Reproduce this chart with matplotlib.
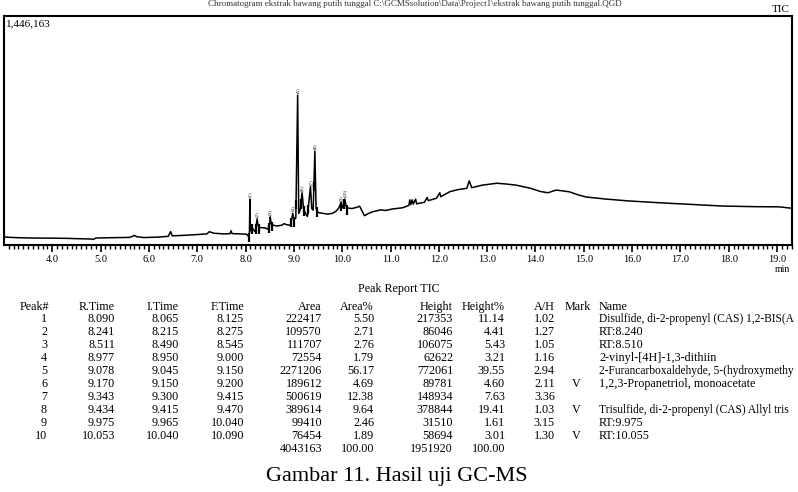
#!/usr/bin/env python3

import numpy as np
import matplotlib
matplotlib.use('Agg')
import matplotlib.pyplot as plt

# TIC trace (min, counts)
rt_trace = [3.00, 3.01, 3.30, 3.60, 4.00, 4.30, 4.50, 4.80, 4.85, 4.90, 5.20, 5.60, 5.70, 5.75,
	5.90, 6.20, 6.40, 6.45, 6.48, 6.80, 7.00, 7.20, 7.25, 7.35, 7.55, 7.68, 7.70, 7.72, 7.90,
	8.02, 8.06, 8.08, 8.09, 8.10, 8.13, 8.16, 8.20, 8.24, 8.26, 8.30, 8.40, 8.46, 8.50, 8.511,
	8.53, 8.57, 8.65, 8.75, 8.80, 8.85, 8.93, 8.977, 9.00, 9.04, 9.078, 9.10, 9.13, 9.17, 9.20,
	9.24, 9.28, 9.343, 9.37, 9.40, 9.434, 9.46, 9.50, 9.60, 9.70, 9.80, 9.88, 9.93, 9.975,
	10.01, 10.053, 10.09, 10.20, 10.30, 10.36, 10.46, 10.55, 10.63, 10.80, 10.90, 11.05,
	11.25, 11.38, 11.40, 11.42, 11.45, 11.47, 11.52, 11.54, 11.70, 11.76, 11.78, 11.95,
	12.02, 12.04, 12.23, 12.40, 12.58, 12.63, 12.68, 12.90, 13.20, 13.40, 13.60, 13.90,
	14.10, 14.26, 14.43, 14.70, 14.90, 15.05, 15.46, 15.94, 16.56, 17.18, 17.87, 18.56,
	19.04, 19.31]
tic_trace = [95000, 50000, 46000, 44000, 43000, 42000, 40000, 38000, 35000, 44000, 46000, 48000,
	60000, 52000, 47000, 50000, 55000, 85000, 58000, 62000, 66000, 70000, 84000, 74000, 70000,
	72000, 90000, 72000, 70000, 68000, 55000, 80000, 290000, 90000, 120000, 95000, 85000,
	165000, 120000, 110000, 108000, 100000, 130000, 178000, 135000, 125000, 120000, 125000,
	135000, 128000, 125000, 200000, 160000, 170000, 947000, 200000, 220000, 330000, 230000,
	200000, 180000, 368000, 230000, 220000, 594000, 230000, 205000, 200000, 195000, 200000,
	215000, 235000, 265000, 235000, 290000, 235000, 230000, 238000, 245000, 185000, 200000,
	210000, 222000, 218000, 228000, 235000, 250000, 285000, 255000, 285000, 258000, 290000,
	260000, 270000, 300000, 280000, 295000, 330000, 305000, 337000, 350000, 358000, 405000,
	362000, 378000, 390000, 385000, 378000, 358000, 338000, 330000, 347000, 336000, 315000,
	303000, 290000, 278000, 267000, 257000, 246000, 242000, 241000, 232000]
y_max = 1446163

# peak report table
peak_no = [1, 2, 3, 4, 5, 6, 7, 8, 9, 10]
r_time = [8.090, 8.241, 8.511, 8.977, 9.078, 9.170, 9.343, 9.434, 9.975, 10.053]
i_time = [8.065, 8.215, 8.490, 8.950, 9.045, 9.150, 9.300, 9.415, 9.965, 10.040]
f_time = [8.125, 8.275, 8.545, 9.000, 9.150, 9.200, 9.415, 9.470, 10.040, 10.090]
area = [222417, 109570, 111707, 72554, 2271206, 189612, 500619, 389614, 99410, 76454]
area_pct = [5.50, 2.71, 2.76, 1.79, 56.17, 4.69, 12.38, 9.64, 2.46, 1.89]
height = [217353, 86046, 106075, 62622, 772061, 89781, 148934, 378844, 31510, 58694]
height_pct = [11.14, 4.41, 5.43, 3.21, 39.55, 4.60, 7.63, 19.41, 1.61, 3.01]
a_h = [1.02, 1.27, 1.05, 1.16, 2.94, 2.11, 3.36, 1.03, 3.15, 1.30]
mark = ["", "", "", "", "", "V", "", "V", "", "V"]
names = ["Disulfide, di-2-propenyl (CAS) 1,2-BIS(A", "RT:8.240", "RT:8.510",
	"2-vinyl-[4H]-1,3-dithiin", "2-Furancarboxaldehyde, 5-(hydroxymethy",
	"1,2,3-Propanetriol, monoacetate", "", "Trisulfide, di-2-propenyl (CAS) Allyl tris",
	"RT:9.975", "RT:10.055"]
total_area = 4043163
total_height = 1951920

W, H = 798, 492
SERIF = ['Liberation Serif', 'DejaVu Serif']


def fx(px):
	return px / W


def fy(py):
	return 1 - py / H


def plot_chromatogram(fig):
	ax = fig.add_axes([fx(4), fy(245), fx(792) - fx(4), fy(16) - fy(245)])
	ax.plot(rt_trace, tic_trace, color='black', lw=1.1)

	# integration start/end markers
	for t in i_time + f_time:
		v = np.interp(t, rt_trace, tic_trace)
		ax.vlines(t, v - 45000, v + 15000, color='black', lw=1.6)

	# peak numbers above apexes
	for n, t in zip(peak_no, r_time):
		v = np.interp(t, rt_trace, tic_trace)
		ax.text(t, v + 12000, "(%d)" % n, rotation=90, fontsize=3.5, ha='center', va='bottom',
			family=SERIF)

	ax.set_xlim(3.0, 19.31)
	ax.set_ylim(0, y_max)
	ax.set_yticks([])
	ax.set_xticks(np.arange(4, 20))
	ax.set_xticklabels(["%.1f" % t for t in np.arange(4, 20)], family=SERIF, fontsize=7.5)
	ax.set_xticks(np.arange(3.1, 19.31, 0.1), minor=True)
	ax.tick_params(axis='x', which='major', length=5, width=1.2, pad=2.5)
	ax.tick_params(axis='x', which='minor', length=3, width=1.0)
	for s in ax.spines.values():
		s.set_linewidth(1.5)

	ax.text(0.003, 0.985, "{:,}".format(y_max), transform=ax.transAxes, ha='left', va='top',
		fontsize=8, family=SERIF)
	fig.text(fx(790), fy(10), "TIC", ha='right', va='center', fontsize=8, family=SERIF)
	fig.text(fx(790), fy(270), "min", ha='right', va='center', fontsize=7, family=SERIF)
	fig.text(0.52, fy(4), "Chromatogram ekstrak bawang putih tunggal C:\\GCMSsolution\\Data\\Project1\\ekstrak bawang putih tunggal.QGD",
		ha='center', va='center', fontsize=6.5, family=SERIF, color='#333333')


def plot_table(fig):
	fs = 8.7
	fig.text(fx(399), fy(289), "Peak Report TIC", ha='center', va='center', fontsize=fs, family=SERIF)

	cols = [
		("Peak#", 49, 'right', ["%d" % v for v in peak_no]),
		("R.Time", 115, 'right', ["%.3f" % v for v in r_time]),
		("I.Time", 179, 'right', ["%.3f" % v for v in i_time]),
		("F.Time", 244, 'right', ["%.3f" % v for v in f_time]),
		("Area", 322, 'right', ["%d" % v for v in area]),
		("Area%", 374, 'right', ["%.2f" % v for v in area_pct]),
		("Height", 453, 'right', ["%d" % v for v in height]),
		("Height%", 505, 'right', ["%.2f" % v for v in height_pct]),
		("A/H", 555, 'right', ["%.2f" % v for v in a_h]),
		("Mark", 565, 'left', mark),
		("Name", 599, 'left', names),
	]
	for head, x, al, vals in cols:
		fig.text(fx(x), fy(307), head, ha=al, va='center', fontsize=fs, family=SERIF)
		if head == "Peak#":
			x = 47
		if head == "Mark":
			x, al = 576, 'center'
		for i, s in enumerate(vals):
			f = fs
			if head == "Name" and len(s) > 35:
				f = 8.3
			fig.text(fx(x), fy(319 + 13.0 * i), s, ha=al, va='center', fontsize=f, family=SERIF)

	fig.text(fx(322), fy(449), "%d" % total_area, ha='right', va='center', fontsize=fs, family=SERIF)
	fig.text(fx(374), fy(449), "100.00", ha='right', va='center', fontsize=fs, family=SERIF)
	fig.text(fx(453), fy(449), "%d" % total_height, ha='right', va='center', fontsize=fs, family=SERIF)
	fig.text(fx(505), fy(449), "100.00", ha='right', va='center', fontsize=fs, family=SERIF)

	fig.text(fx(397), fy(476), "Gambar 11. Hasil uji GC-MS", ha='center', va='center',
		fontsize=16, family=SERIF)


def main():
	fig = plt.figure(figsize=(W / 100, H / 100), dpi=100)
	plot_chromatogram(fig)
	plot_table(fig)
	fig.savefig("out.png", dpi=100)


if __name__ == "__main__":
	main()
